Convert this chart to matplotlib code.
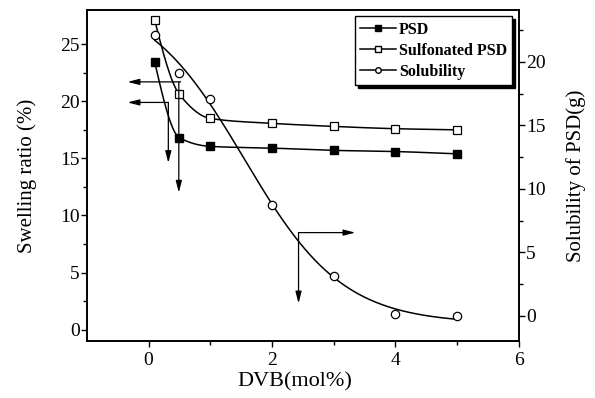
import numpy as np
import matplotlib
matplotlib.use('Agg')
import matplotlib.pyplot as plt

plt.rcParams['font.family'] = ['Liberation Serif', 'DejaVu Serif']

# Data
dvb = [0.1, 0.5, 1, 2, 3, 4, 5]
psd = [23.4, 16.8, 16.05, 15.9, 15.7, 15.6, 15.4]
sulf_psd = [27.1, 20.6, 18.5, 18.07, 17.8, 17.6, 17.5]
solubility = [22.1, 19.1, 17.1, 8.7, 3.15, 0.15, 0.0]


def pchip(x, y, xn):
    """ Monotone cubic curve through the points, used only to draw smooth lines. """
    x = np.asarray(x, float)
    y = np.asarray(y, float)
    h = np.diff(x)
    dl = np.diff(y) / h
    d = np.zeros_like(y)
    for k in range(1, len(x) - 1):
        if dl[k - 1] * dl[k] > 0:
            w1 = 2 * h[k] + h[k - 1]
            w2 = h[k] + 2 * h[k - 1]
            d[k] = (w1 + w2) / (w1 / dl[k - 1] + w2 / dl[k])
    d0 = ((2 * h[0] + h[1]) * dl[0] - h[0] * dl[1]) / (h[0] + h[1])
    if np.sign(d0) != np.sign(dl[0]):
        d0 = 0
    elif np.sign(dl[0]) != np.sign(dl[1]) and abs(d0) > abs(3 * dl[0]):
        d0 = 3 * dl[0]
    d[0] = d0
    d[-1] = dl[-1]
    idx = np.clip(np.searchsorted(x, xn) - 1, 0, len(x) - 2)
    t = (xn - x[idx]) / h[idx]
    h00 = 2 * t ** 3 - 3 * t ** 2 + 1
    h10 = t ** 3 - 2 * t ** 2 + t
    h01 = -2 * t ** 3 + 3 * t ** 2
    h11 = t ** 3 - t ** 2
    return (h00 * y[idx] + h10 * h[idx] * d[idx]
            + h01 * y[idx + 1] + h11 * h[idx] * d[idx + 1])


def boltzmann_fit(x, y, xn):
    """ Sigmoidal (Boltzmann) fit, coarse grid search on x0 and dx. """
    x = np.asarray(x, float)
    y = np.asarray(y, float)
    best = None
    for x0 in np.linspace(0.0, 4.0, 161):
        for dx in np.linspace(0.2, 3.0, 141):
            s = 1.0 / (1.0 + np.exp((x - x0) / dx))
            A = np.column_stack([np.ones_like(s), s])
            c, *_ = np.linalg.lstsq(A, y, rcond=None)
            r = np.sum((A @ c - y) ** 2)
            if best is None or r < best[0]:
                best = (r, x0, dx, c)
    _, x0, dx, c = best
    return c[0] + c[1] / (1.0 + np.exp((xn - x0) / dx))


fig = plt.figure(figsize=(5.95, 3.98), dpi=100)
ax = fig.add_axes([0.146, 0.143, 0.726, 0.832])
ax2 = ax.twinx()

xs = np.linspace(dvb[0], dvb[-1], 300)
lw = 1.1
ax.plot(xs, pchip(dvb, psd, xs), color='k', lw=lw)
ax.plot(xs, pchip(dvb, sulf_psd, xs), color='k', lw=lw)
ax.plot(dvb, psd, ls='none', marker='s', ms=6, mfc='k', mec='k')
ax.plot(dvb, sulf_psd, ls='none', marker='s', ms=6, mfc='w', mec='k', mew=0.9)

ax2.plot(xs, boltzmann_fit(dvb, solubility, xs), color='k', lw=lw)
ax2.plot(dvb, solubility, ls='none', marker='o', ms=6, mfc='w', mec='k', mew=0.9)

# legend handles
h1, = ax.plot([], [], color='k', lw=lw, marker='s', ms=4, mfc='k', mec='k')
h2, = ax.plot([], [], color='k', lw=lw, marker='s', ms=4, mfc='w', mec='k')
h3, = ax.plot([], [], color='k', lw=lw, marker='o', ms=4, mfc='w', mec='k')
leg = ax2.legend([h1, h2, h3], ['PSD', 'Sulfonated PSD', 'Solubility'],
                 loc='upper right', fancybox=False, framealpha=1,
                 edgecolor='k', borderaxespad=0.4, handlelength=2.2,
                 handletextpad=0.2, labelspacing=0.3, borderpad=0.35,
                 prop={'weight': 'bold', 'size': 11.5},
                 shadow={'facecolor': 'k', 'edgecolor': 'k', 'alpha': 1})
leg.get_frame().set_linewidth(1.0)

# arrows
ap = dict(arrowstyle='-|>,head_width=0.18,head_length=0.7', color='k', lw=0.9,
          shrinkA=0, shrinkB=0)
ax.annotate('', xy=(-0.34, 21.7), xytext=(0.52, 21.7), arrowprops=ap)
ax.annotate('', xy=(0.49, 12.0), xytext=(0.49, 21.7), arrowprops=ap)
ax.annotate('', xy=(-0.34, 19.9), xytext=(0.32, 19.9), arrowprops=ap)
ax.annotate('', xy=(0.32, 14.6), xytext=(0.32, 19.9), arrowprops=ap)
ax.annotate('', xy=(2.43, 2.3), xytext=(2.43, 8.5), arrowprops=ap)
ax.annotate('', xy=(3.35, 8.5), xytext=(2.43, 8.5), arrowprops=ap)

ax.set_xlim(-1, 6)
ax.set_ylim(-1, 28)
ax2.set_ylim(-2, 24.1)
ax.set_xticks([0, 2, 4, 6])
ax.set_xticks([1, 3, 5], minor=True)
ax.set_yticks([0, 5, 10, 15, 20, 25])
ax.set_yticks([2.5, 7.5, 12.5, 17.5, 22.5], minor=True)
ax2.set_yticks([0, 5, 10, 15, 20])
ax2.set_yticks([2.5, 7.5, 12.5, 17.5, 22.5], minor=True)

for a in (ax, ax2):
    a.tick_params(which='major', direction='out', length=4, width=1, labelsize=14, pad=1)
    a.tick_params(which='minor', direction='out', length=3, width=1)
    for s in a.spines.values():
        s.set_linewidth(1.2)
ax.tick_params(axis='x', which='major', pad=4)

ax.set_xlabel('DVB(mol%)', fontsize=16, labelpad=2)
ax.xaxis.set_label_coords(0.481, -0.093)
ax.set_ylabel('Swelling ratio (%)', fontsize=15, labelpad=17)
ax2.set_ylabel('Solubility of PSD(g)', fontsize=15, labelpad=15)

fig.savefig('out.png', dpi=100)
